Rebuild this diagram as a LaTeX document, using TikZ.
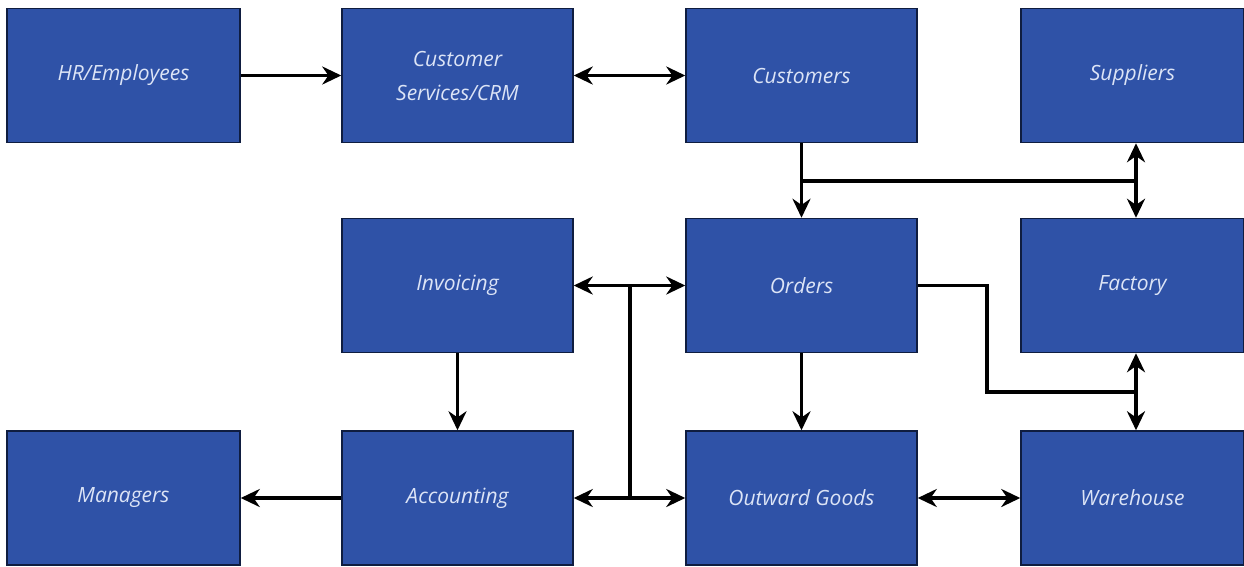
\documentclass[tikz,border=0pt]{standalone}
\usepackage{fontspec}
\setmainfont{Open Sans}
\usetikzlibrary{arrows.meta,calc}
\definecolor{boxblue}{HTML}{2F52A7}
\definecolor{boxline}{HTML}{0F1D40}
\definecolor{txt}{HTML}{DCE4F6}
\tikzset{
  blk/.style={draw=boxline, line width=1.5pt, fill=boxblue, minimum width=#1, minimum height=134pt,
    inner sep=0pt, align=center, text=txt, font=\fontsize{21pt}{34pt}\selectfont\itshape},
  blk/.default=231pt,
  conn/.style={line width=3.2pt, draw=black},
  tip/.style={-{Stealth[length=19pt,width=18pt]}},
  tips/.style={{Stealth[length=19pt,width=18pt]}-{Stealth[length=19pt,width=18pt]}}
}
\begin{document}
\begin{tikzpicture}[x=1pt,y=-1pt]
\useasboundingbox (0,0) rectangle (1244,566);
\fill[white] (0,0) rectangle (1244,566);
% row 1
\node[blk=233pt] (hr) at (123.5,75.5) {HR/Employees};
\node[blk] (crm) at (457.5,75.5) {Customer\\Services/CRM};
\node[blk] (cust) at (801.5,75.5) {Customers};
\node[blk=223pt] (supp) at (1132.5,75.5) {Suppliers};
% row 2
\node[blk] (inv) at (457.5,285.5) {Invoicing};
\node[blk] (ord) at (801.5,285.5) {Orders};
\node[blk=223pt] (fact) at (1132.5,285.5) {Factory};
% row 3
\node[blk=233pt] (man) at (123.5,498) {Managers};
\node[blk] (acc) at (457.5,498) {Accounting};
\node[blk] (out) at (801.5,498) {Outward Goods};
\node[blk=223pt] (ware) at (1132.5,498) {Warehouse};
% connectors
\draw[conn,tip] (hr.east) -- (crm.west);
\draw[conn,tips] (crm.east) -- (cust.west);
\draw[conn,tip] (cust.south) -- (ord.north);
\coordinate (j1) at (801.5,181);
\coordinate (j2) at (1136,181);
\draw[conn] (j1) -- (j2);
\draw[conn,tip] (j2) -- (j2 |- supp.south);
\draw[conn,tip] (j2) -- (j2 |- fact.north);
\draw[conn,tips] (inv.east) -- (ord.west);
\draw[conn,tips] (acc.east) -- (out.west);
\coordinate (v1) at (630,285.5);
\coordinate (v2) at (630,498);
\draw[conn] (v1) -- (v2);
\draw[conn,tip] (inv.south) -- (acc.north);
\draw[conn,tip] (acc.west) -- (man.east);
\draw[conn,tip] (ord.south) -- (out.north);
\draw[conn,tips] (out.east) -- (ware.west);
\coordinate (k1) at (987,285.5);
\coordinate (k2) at (987,392);
\coordinate (k3) at (1136,392);
\draw[conn] (ord.east) -- (k1) -- (k2) -- (k3);
\draw[conn,tip] (k3) -- (k3 |- fact.south);
\draw[conn,tip] (k3) -- (k3 |- ware.north);
\end{tikzpicture}
\end{document}
